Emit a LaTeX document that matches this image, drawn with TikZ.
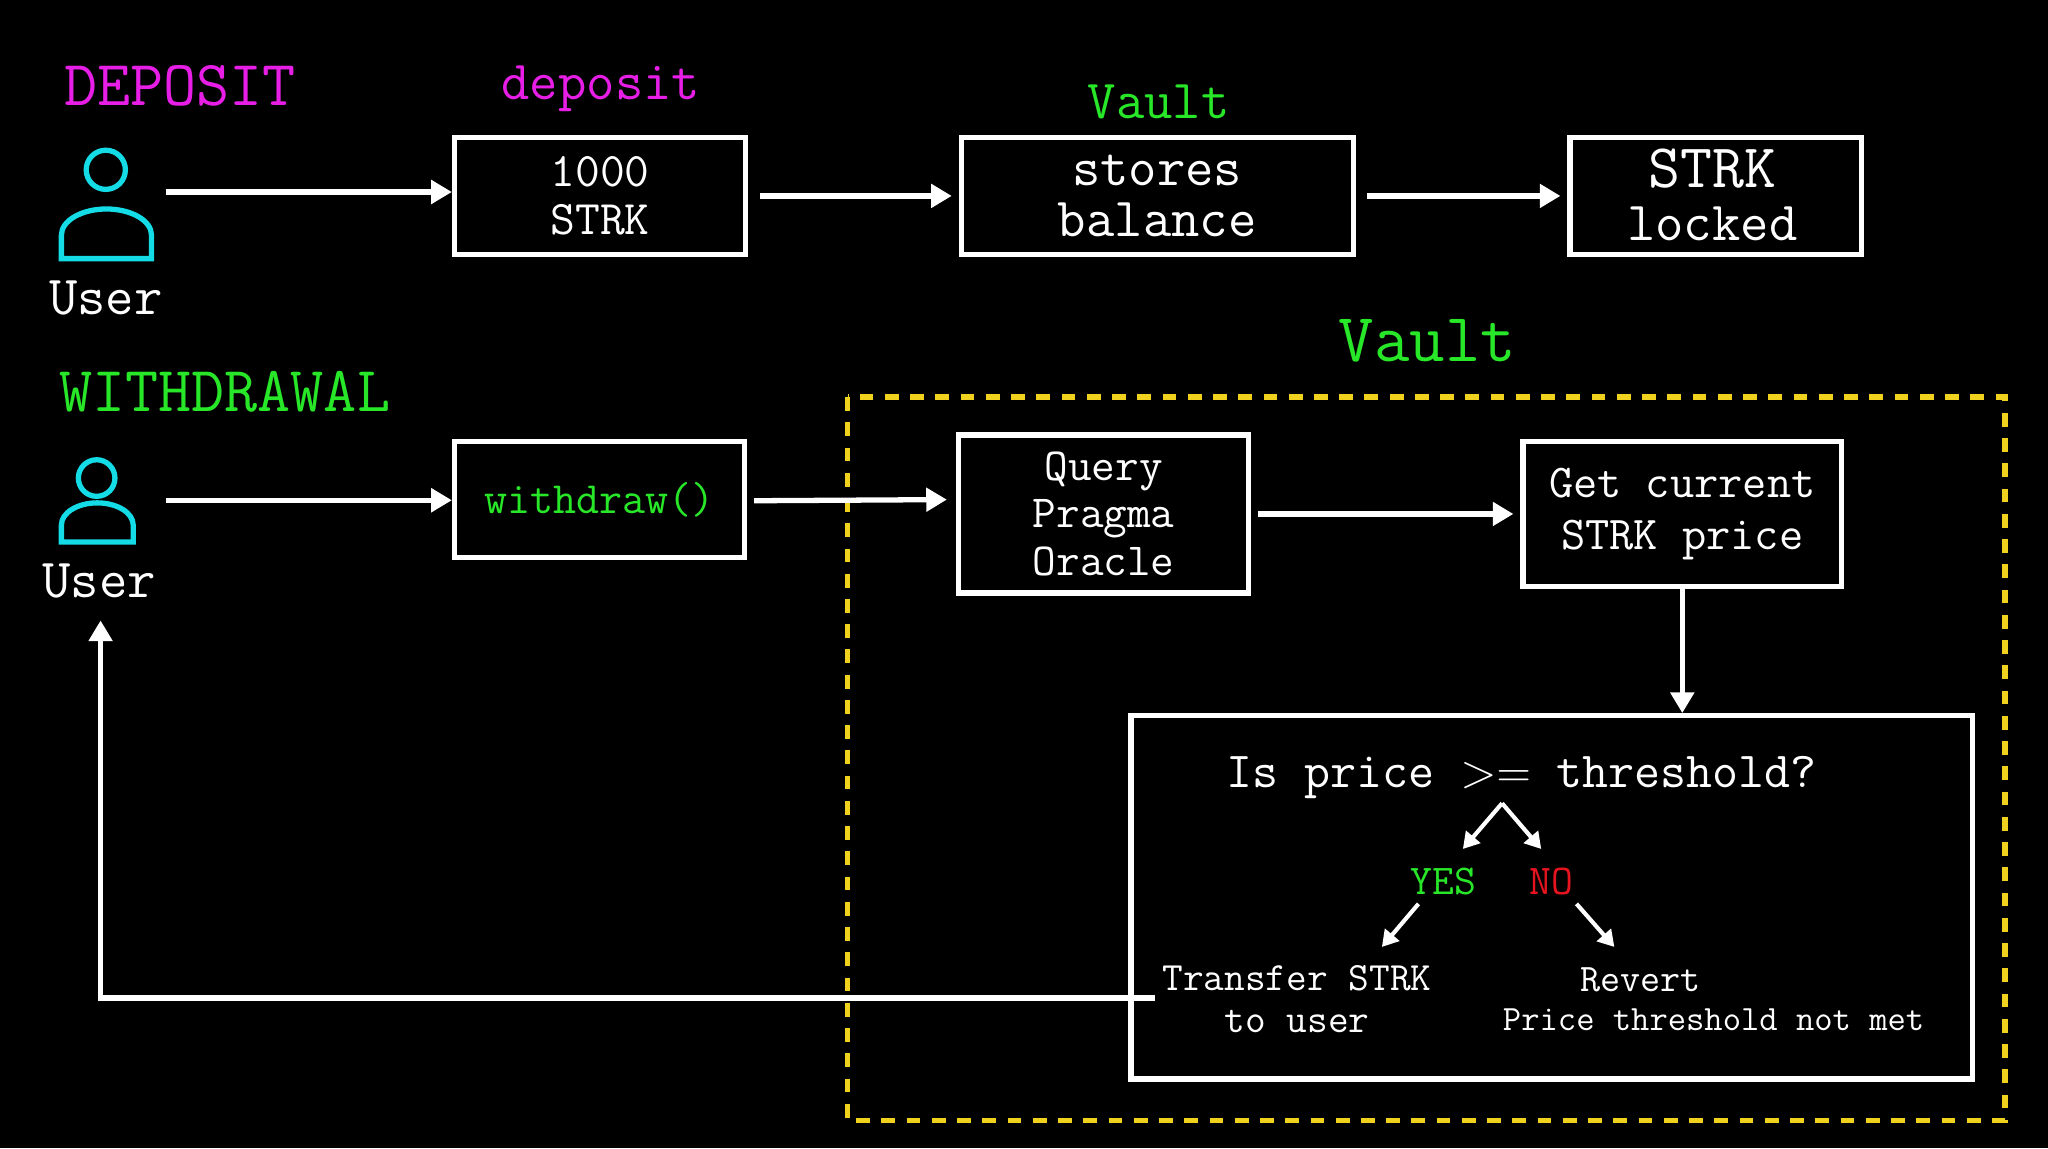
\documentclass[tikz,border=0pt]{standalone}
\usetikzlibrary{arrows.meta}
\definecolor{mag}{RGB}{230,30,230}
\definecolor{grn}{RGB}{40,230,40}
\definecolor{cyn}{RGB}{20,220,230}
\definecolor{ylw}{RGB}{240,210,30}
\definecolor{rd}{RGB}{230,20,30}
\newcommand{\fs}[2]{\fontsize{#1}{#2}\selectfont}
\begin{document}
\begin{tikzpicture}[x=0.02cm,y=-0.02cm,
  every node/.style={font=\ttfamily, text=white, inner sep=0pt, align=center},
  box/.style={draw=white, line width=2.3pt, minimum width=#1*0.02cm},
  arr/.style={draw=white, line width=2.3pt, -{Triangle[length=9pt,width=10pt]}},
  sarr/.style={draw=white, line width=1.8pt, -{Triangle[length=7pt,width=8pt]}},
  user/.style={draw=cyn, line width=2.3pt}]
\fill[black] (0,0) rectangle (1568,879);
\useasboundingbox (0,0) rectangle (1568,879);
% titles
\node[text=mag,font=\ttfamily\fs{28}{30}] (t1) at (138,66) {DEPOSIT};
\node[text=mag,font=\ttfamily\fs{24}{26}] (t2) at (460,68) {deposit};
\node[text=grn,font=\ttfamily\fs{24}{26}] (t3) at (887,78) {Vault};
\node[text=grn,font=\ttfamily\fs{30}{32}] (t4) at (1093,261) {Vault};
\node[text=grn,font=\ttfamily\fs{28}{30}] (t5) at (172,300) {WITHDRAWAL};
% users
\draw[user] (81,130) circle (15);
\draw[user] (47,198) -- (47,180) arc[start angle=180,end angle=0,x radius=34.5,y radius=-20] -- (116,198) -- cycle;
\node[font=\ttfamily\fs{24}{26}] (u1) at (81,228) {User};
\draw[user] (74,366) circle (14);
\draw[user] (47,415) -- (47,402) arc[start angle=180,end angle=0,x radius=27.5,y radius=-17] -- (102,415) -- cycle;
\node[font=\ttfamily\fs{24}{26}] (u2) at (76,445) {User};
\coordinate (u1r) at (127,147);
\coordinate (u2r) at (127,383);
% top row
\node[box=223, minimum height=90*0.02cm, font=\ttfamily\fs{21}{21}] (b1) at (459.5,150) {1000\\STRK};
\node[box=300, minimum height=90*0.02cm, font=\ttfamily\fs{24}{22}] (b2) at (886,150) {stores\\balance};
\node[box=223, minimum height=90*0.02cm] (b3) at (1313.5,150) {};
\node[font=\ttfamily\fs{24}{24}] (b3t) at (1311,149) {{\fs{27}{24}STRK}\\[-1pt]locked};
\draw[arr] (u1r) -- (u1r -| b1.west);
\draw[arr] ([xshift=5pt]b1.east) -- ([xshift=-3pt]b2.west);
\draw[arr] ([xshift=5pt]b2.east) -- ([xshift=-3pt]b3.west);
% withdrawal
\draw[ylw, line width=2.3pt, dash pattern=on 6pt off 5pt] (649,304) rectangle (1535,858);
\node[box=222, minimum height=89*0.02cm, text=grn, font=\ttfamily\fs{19.5}{21}] (b4) at (459,382.5) {withdraw()};
\node[box=222, minimum height=121*0.02cm, font=\ttfamily\fs{20}{20.5}] (b5) at (845,393.5) {Query\\Pragma\\Oracle};
\node[box=244, minimum height=111*0.02cm, font=\ttfamily\fs{20.5}{23}] (b6) at (1288,393.5) {Get current\\STRK price};
\node[box=644, minimum height=278*0.02cm] (b7) at (1188,687) {};
\draw[arr] (u2r) -- (u2r -| b4.west);
\draw[arr] ([xshift=3pt,yshift=-0.5pt]b4.east) -- ([xshift=-4pt]b5.west |- b4.east);
\draw[arr] ([xshift=3pt]b5.east) -- ([xshift=-3pt]b6.west);
\draw[arr] (b6.south) -- (b7.north -| b6.south);
% decision
\node[font=\ttfamily\fs{22}{24}] (q) at (1165,595) {Is price $>=$ threshold?};
\coordinate (qa) at (1150,615);
\node[text=grn,font=\ttfamily\fs{18.5}{20}] (yes) at (1105,675) {YES};
\node[text=rd,font=\ttfamily\fs{18.5}{20}] (no) at (1188,675) {NO};
\coordinate (ya) at (1120,650);
\coordinate (na) at (1180,650);
\draw[sarr] (qa) -- (ya);
\draw[sarr] (qa) -- (na);
\node[font=\ttfamily\fs{17.5}{18}] (tr) at (993,765) {Transfer STRK\\to user};
\node[font=\ttfamily\fs{17}{22}] (rv) at (1256,750) {Revert};
\node[font=\ttfamily\fs{15.5}{18}] (pt) at (1312,781) {Price threshold not met};
\coordinate (ys) at (1086,692); \coordinate (ye) at (1058,725);
\coordinate (ns) at (1207,692); \coordinate (ne) at (1236,725);
\draw[sarr] (ys) -- (ye);
\draw[sarr] (ns) -- (ne);
% feedback
\coordinate (fb) at (884,764);
\coordinate (fc) at (77,764);
\coordinate (fe) at (77,475);
\draw[arr] (fb) -- (fc) -- (fe);
\end{tikzpicture}
\end{document}
